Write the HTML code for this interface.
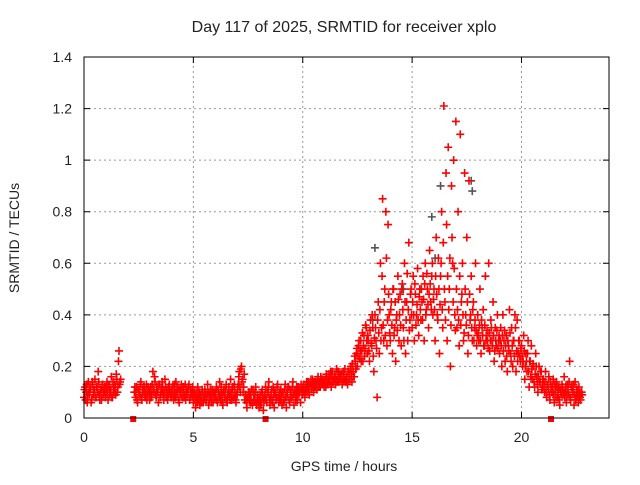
<!DOCTYPE html>
<html><head><meta charset="utf-8"><style>
html,body{margin:0;padding:0;background:#fff;}
svg text{font-family:"Liberation Sans",sans-serif;fill:#222;}
</style></head><body>
<svg id="chart" width="640" height="480" viewBox="0 0 640 480" xmlns="http://www.w3.org/2000/svg">
<rect width="640" height="480" fill="#fff"/>
<text x="344" y="32" font-size="16" text-anchor="middle">Day 117 of 2025, SRMTID for receiver xplo</text>
<text transform="translate(19,238) rotate(-90)" font-size="14" text-anchor="middle">SRMTID / TECUs</text>
<text x="344" y="471" font-size="14" text-anchor="middle">GPS time / hours</text>
<g id="grid"></g><g id="ticks"></g><g id="gray"></g><g id="red"></g>
<rect x="84" y="57" width="525" height="361" fill="none" stroke="#000" stroke-width="1"/>
</svg>
<script>
const xTicks=[0,5,10,15,20];
const yTicks=[0,0.2,0.4,0.6,0.8,1,1.2,1.4];
const yTickLabels=["0","0.2","0.4","0.6","0.8","1","1.2","1.4"];
const startHour=0;
const stepHour=0.05;
const srmtid=[
.08,.12,.1,.06,.14,.09,.11,.07,.13,.1,.15,.08,.12,.18,.09,.11,.07,.13,.1,.12,
.09,.14,.07,.12,.1,.16,.08,.11,.13,.09,.15,.12,.26,.14,null,null,null,null,null,null,
null,null,null,null,null,null,.1,.08,.12,.06,.11,.09,.14,.07,.1,.12,.08,.13,.09,.11,
.07,.12,.09,.18,.1,.14,.08,.11,.06,.13,.09,.1,.12,.07,.15,.08,.11,.09,.13,.1,
.08,.12,.07,.1,.14,.09,.11,.06,.1,.13,.08,.12,.09,.07,.11,.1,.13,.08,.1,.09,
.06,.1,.04,.08,.12,.07,.05,.09,.11,.06,.08,.1,.07,.13,.05,.09,.08,.11,.06,.1,
.08,.12,.06,.1,.14,.07,.09,.05,.11,.08,.13,.06,.1,.09,.15,.07,.12,.08,.1,.06,
.09,.13,.18,.1,.2,.15,.12,.07,.09,.04,.08,.1,.06,.11,.05,.09,.07,.12,.05,.08,
.04,.09,.06,.11,.03,.08,.12,.06,.1,.14,.05,.09,.07,.12,.04,.1,.08,.13,.06,.09,
.11,.05,.1,.07,.13,.04,.09,.12,.06,.1,.08,.14,.05,.11,.09,.07,.12,.1,.06,.11,
.1,.13,.08,.12,.1,.14,.09,.13,.11,.15,.1,.12,.14,.11,.16,.13,.12,.15,.14,.13,
.14,.12,.16,.13,.17,.15,.12,.18,.14,.16,.13,.19,.15,.14,.17,.16,.13,.18,.15,.14,
.16,.13,.17,.15,.2,.14,.18,.16,.22,.25,.2,.28,.23,.3,.26,.22,.32,.27,.35,.25,
.3,.22,.38,.28,.35,.18,.4,.3,.08,.45,.25,.6,.35,.85,.3,.5,.8,.28,.75,.4,
.3,.45,.25,.5,.35,.22,.4,.55,.3,.48,.28,.52,.35,.6,.25,.45,.3,.68,.38,.5,
.35,.55,.3,.48,.4,.58,.32,.5,.38,.45,.55,.3,.6,.42,.5,.35,.65,.45,.55,.4,
.5,.3,.7,.4,.62,.25,.55,.8,.35,1.21,.45,.95,.3,1.05,.5,.2,.9,.6,1.0,.4,
1.15,.35,.8,.28,1.1,.45,.6,.3,.95,.4,.7,.25,.92,.38,.55,.3,.45,.35,.6,.28,
.4,.3,.5,.25,.35,.42,.28,.55,.32,.3,.6,.26,.38,.3,.45,.22,.35,.28,.4,.3,
.25,.35,.2,.4,.3,.22,.32,.18,.28,.42,.25,.35,.2,.3,.4,.18,.38,.25,.3,.22,
.28,.2,.32,.15,.25,.18,.3,.12,.22,.28,.15,.2,.12,.25,.16,.1,.2,.14,.18,.12,
.15,.1,.18,.08,.13,.16,.07,.12,.1,.15,.06,.11,.14,.08,.12,.05,.1,.13,.09,.16,
.1,.06,.13,.09,.22,.07,.12,.1,.05,.14,.08,.11,.06,.09,.07,.1];
const srmtidB=[
.11,.07,.13,.09,.1,.12,.06,.14,.09,.11,.08,.12,.1,.14,.07,.1,.12,.09,.11,.08,
.12,.1,.13,.09,.11,.08,.14,.1,.12,.17,.1,.22,.13,.15,null,null,null,null,null,null,
null,null,null,null,null,null,.12,.1,.07,.11,.09,.13,.08,.11,.12,.09,.1,.07,.12,.1,
.1,.08,.13,.11,.16,.09,.12,.1,.13,.08,.11,.14,.09,.1,.12,.09,.07,.12,.1,.08,
.11,.09,.13,.08,.1,.12,.07,.11,.09,.12,.1,.08,.13,.1,.09,.12,.07,.11,.09,.12,
.09,.07,.1,.06,.09,.1,.08,.06,.1,.08,.11,.07,.09,.1,.07,.11,.06,.09,.1,.08,
.1,.07,.11,.08,.09,.12,.06,.1,.08,.11,.07,.09,.12,.07,.1,.11,.08,.13,.07,.09,
.11,.16,.12,.19,.14,.1,.17,.09,.06,.08,.1,.07,.09,.06,.11,.07,.1,.06,.09,.07,
.07,.05,.1,.08,.06,.09,.07,.1,.12,.08,.07,.11,.06,.09,.1,.07,.12,.08,.1,.07,
.08,.1,.06,.11,.08,.1,.12,.07,.11,.08,.12,.09,.1,.07,.12,.1,.09,.11,.13,.09,
.12,.1,.11,.14,.12,.11,.13,.15,.12,.13,.14,.12,.13,.15,.12,.14,.16,.13,.15,.12,
.15,.17,.13,.15,.14,.18,.16,.14,.15,.17,.15,.14,.18,.16,.15,.17,.14,.16,.19,.15,
.14,.18,.15,.19,.17,.21,.16,.24,.19,.27,.24,.3,.26,.22,.33,.28,.24,.36,.3,.32,
.26,.34,.29,.4,.24,.31,.35,.27,.38,.33,.42,.3,.55,.36,.45,.32,.62,.38,.48,.33,
.42,.36,.5,.32,.45,.38,.34,.46,.4,.36,.5,.42,.3,.45,.38,.56,.42,.34,.48,.4,
.45,.4,.52,.36,.44,.38,.47,.42,.5,.38,.46,.52,.4,.56,.44,.48,.52,.42,.6,.46,
.42,.55,.48,.38,.5,.44,.6,.42,.68,.5,.38,.75,.55,.42,.62,.36,.7,.45,.58,.34,
.5,.42,.38,.55,.36,.48,.4,.33,.5,.36,.45,.32,.48,.4,.35,.42,.3,.38,.34,.32,
.33,.36,.3,.38,.32,.28,.36,.3,.34,.27,.33,.3,.35,.28,.32,.26,.3,.34,.27,.32,
.3,.28,.32,.26,.34,.28,.24,.3,.26,.33,.22,.28,.3,.24,.35,.26,.22,.3,.24,.27,
.24,.22,.26,.2,.22,.25,.18,.22,.16,.19,.21,.14,.17,.2,.13,.16,.14,.18,.11,.15,
.12,.14,.1,.13,.11,.09,.14,.1,.12,.09,.13,.08,.12,.1,.07,.11,.09,.12,.1,.08,
.12,.09,.11,.14,.08,.12,.1,.13,.09,.07,.11,.09,.12,.08,.1,.09];
const grayHours=[13.3,13.2,15.9,16.05,16.3,17.7,17.75,14.6];
const grayValues=[0.66,0.38,0.78,0.62,0.9,0.92,0.88,0.5];
const markerHours=[2.25,8.3,21.35];

const X0=84,X1=609,Y0=418,Y1=57;
const xs=h=>X0+(h-0)/24*(X1-X0);
const ys=v=>Y0-(v-0)/1.4*(Y0-Y1);
const NS="http://www.w3.org/2000/svg";
function mk(tag,attrs,parent){const e=document.createElementNS(NS,tag);for(const k in attrs)e.setAttribute(k,attrs[k]);parent.appendChild(e);return e;}
const grid=document.getElementById('grid'),ticks=document.getElementById('ticks');
xTicks.forEach(t=>{const x=xs(t);
 if(t>0){const g=mk('line',{x1:x,x2:x,y1:Y0,y2:Y1,stroke:'#999','stroke-dasharray':'2,3'},grid);
 
 }
 const tk=mk('path',{d:`M${x},${Y0}v-6M${x},${Y1}v6`,stroke:'#000'},ticks);
 
 
 const tl=mk('text',{x:x,y:Y0+24,'font-size':14,'text-anchor':'middle'},ticks);tl.textContent=t;
 
 
});
yTicks.forEach((t,i)=>{const y=ys(t);
 if(t>0&&t<1.4){const g=mk('line',{x1:X0,x2:X1,y1:y,y2:y,stroke:'#999','stroke-dasharray':'2,3'},grid);
 
 }
 const tk=mk('path',{d:`M${X0},${y}h6M${X1},${y}h-6`,stroke:'#000'},ticks);
 
 
 const tl=mk('text',{x:X0-12,y:y+5,'font-size':14,'text-anchor':'end'},ticks);tl.textContent=yTickLabels[i];
 
 
});
function cross(x,y,col,parent,name){const p=mk('path',{d:`M${x-4},${y}h8M${x},${y-4}v8`,stroke:col,'stroke-width':1.6},parent);
 
 }
const gray=document.getElementById('gray'),red=document.getElementById('red');
grayHours.forEach((h,i)=>cross(xs(h),ys(grayValues[i]),'#555',gray,'gray-point'));
srmtid.forEach((v,i)=>{if(v===null)return;cross(xs(startHour+i*stepHour),ys(v),'#f00',red,'srmtid-point');});
srmtidB.forEach((v,i)=>{if(v===null)return;cross(xs(startHour+i*stepHour+stepHour/2),ys(v),'#f00',red,'srmtid-point');});
markerHours.forEach(h=>{const r=mk('rect',{x:xs(h)-3,y:Y0-2,width:6,height:6,fill:'#f00'},red);
 
 });
</script>
</body></html>
